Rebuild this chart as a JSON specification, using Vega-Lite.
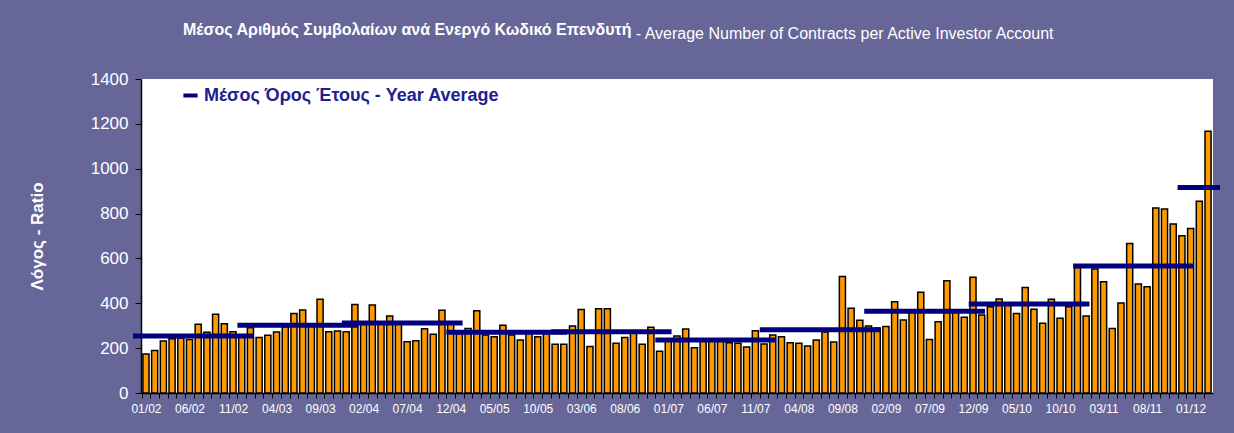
{
  "$schema": "https://vega.github.io/schema/vega-lite/v6.json",
  "width": 1072,
  "height": 314,
  "autosize": {"type": "none"},
  "padding": {"left": 141, "top": 79, "right": 21, "bottom": 40},
  "background": "#666699",
  "title": {
    "text": "Μέσος Αριθμός Συμβολαίων ανά Ενεργό Κωδικό Επενδυτή",
    "color": "white",
    "font": "Liberation Sans, Arial, sans-serif",
    "fontSize": 16,
    "fontWeight": "bold",
    "anchor": "start",
    "frame": "group",
    "dx": 42,
    "offset": -13
  },
  "config": {
    "view": {"fill": "white", "stroke": null},
    "axis": {"domainColor": "#000000", "tickColor": "#000000", "grid": false}
  },
  "datasets": {
    "monthly": [
      {"m": "2002-01", "v": 174}, {"m": "2002-02", "v": 189}, {"m": "2002-03", "v": 232}, {"m": "2002-04", "v": 242}, {"m": "2002-05", "v": 245}, {"m": "2002-06", "v": 239}, {"m": "2002-07", "v": 306}, {"m": "2002-08", "v": 271}, {"m": "2002-09", "v": 351}, {"m": "2002-10", "v": 309}, {"m": "2002-11", "v": 273}, {"m": "2002-12", "v": 252},
      {"m": "2003-01", "v": 291}, {"m": "2003-02", "v": 247}, {"m": "2003-03", "v": 257}, {"m": "2003-04", "v": 272}, {"m": "2003-05", "v": 295}, {"m": "2003-06", "v": 354}, {"m": "2003-07", "v": 370}, {"m": "2003-08", "v": 300}, {"m": "2003-09", "v": 418}, {"m": "2003-10", "v": 273}, {"m": "2003-11", "v": 276}, {"m": "2003-12", "v": 273},
      {"m": "2004-01", "v": 395}, {"m": "2004-02", "v": 305}, {"m": "2004-03", "v": 392}, {"m": "2004-04", "v": 310}, {"m": "2004-05", "v": 343}, {"m": "2004-06", "v": 310}, {"m": "2004-07", "v": 229}, {"m": "2004-08", "v": 233}, {"m": "2004-09", "v": 287}, {"m": "2004-10", "v": 262}, {"m": "2004-11", "v": 369}, {"m": "2004-12", "v": 310},
      {"m": "2005-01", "v": 265}, {"m": "2005-02", "v": 288}, {"m": "2005-03", "v": 367}, {"m": "2005-04", "v": 259}, {"m": "2005-05", "v": 251}, {"m": "2005-06", "v": 302}, {"m": "2005-07", "v": 259}, {"m": "2005-08", "v": 236}, {"m": "2005-09", "v": 275}, {"m": "2005-10", "v": 251}, {"m": "2005-11", "v": 265}, {"m": "2005-12", "v": 217},
      {"m": "2006-01", "v": 217}, {"m": "2006-02", "v": 299}, {"m": "2006-03", "v": 372}, {"m": "2006-04", "v": 207}, {"m": "2006-05", "v": 376}, {"m": "2006-06", "v": 376}, {"m": "2006-07", "v": 222}, {"m": "2006-08", "v": 248}, {"m": "2006-09", "v": 266}, {"m": "2006-10", "v": 217}, {"m": "2006-11", "v": 293}, {"m": "2006-12", "v": 186},
      {"m": "2007-01", "v": 240}, {"m": "2007-02", "v": 254}, {"m": "2007-03", "v": 285}, {"m": "2007-04", "v": 202}, {"m": "2007-05", "v": 235}, {"m": "2007-06", "v": 235}, {"m": "2007-07", "v": 235}, {"m": "2007-08", "v": 224}, {"m": "2007-09", "v": 222}, {"m": "2007-10", "v": 205}, {"m": "2007-11", "v": 278}, {"m": "2007-12", "v": 218},
      {"m": "2008-01", "v": 259}, {"m": "2008-02", "v": 251}, {"m": "2008-03", "v": 224}, {"m": "2008-04", "v": 222}, {"m": "2008-05", "v": 210}, {"m": "2008-06", "v": 236}, {"m": "2008-07", "v": 272}, {"m": "2008-08", "v": 227}, {"m": "2008-09", "v": 519}, {"m": "2008-10", "v": 378}, {"m": "2008-11", "v": 324}, {"m": "2008-12", "v": 299},
      {"m": "2009-01", "v": 290}, {"m": "2009-02", "v": 296}, {"m": "2009-03", "v": 407}, {"m": "2009-04", "v": 325}, {"m": "2009-05", "v": 360}, {"m": "2009-06", "v": 449}, {"m": "2009-07", "v": 239}, {"m": "2009-08", "v": 318}, {"m": "2009-09", "v": 501}, {"m": "2009-10", "v": 360}, {"m": "2009-11", "v": 338}, {"m": "2009-12", "v": 516},
      {"m": "2010-01", "v": 348}, {"m": "2010-02", "v": 385}, {"m": "2010-03", "v": 419}, {"m": "2010-04", "v": 395}, {"m": "2010-05", "v": 355}, {"m": "2010-06", "v": 470}, {"m": "2010-07", "v": 373}, {"m": "2010-08", "v": 311}, {"m": "2010-09", "v": 418}, {"m": "2010-10", "v": 333}, {"m": "2010-11", "v": 385}, {"m": "2010-12", "v": 560},
      {"m": "2011-01", "v": 343}, {"m": "2011-02", "v": 553}, {"m": "2011-03", "v": 496}, {"m": "2011-04", "v": 288}, {"m": "2011-05", "v": 401}, {"m": "2011-06", "v": 667}, {"m": "2011-07", "v": 486}, {"m": "2011-08", "v": 474}, {"m": "2011-09", "v": 825}, {"m": "2011-10", "v": 820}, {"m": "2011-11", "v": 754}, {"m": "2011-12", "v": 701},
      {"m": "2012-01", "v": 733}, {"m": "2012-02", "v": 855}, {"m": "2012-03", "v": 1167}
    ],
    "yearly": [
      {"start": "2002-01", "end": "2002-12", "avg": 254},
      {"start": "2003-01", "end": "2003-12", "avg": 302},
      {"start": "2004-01", "end": "2004-12", "avg": 312},
      {"start": "2005-01", "end": "2005-12", "avg": 271},
      {"start": "2006-01", "end": "2006-12", "avg": 273},
      {"start": "2007-01", "end": "2007-12", "avg": 236},
      {"start": "2008-01", "end": "2008-12", "avg": 282},
      {"start": "2009-01", "end": "2009-12", "avg": 365},
      {"start": "2010-01", "end": "2010-12", "avg": 397},
      {"start": "2011-01", "end": "2011-12", "avg": 566},
      {"start": "2012-01", "end": "2012-03", "avg": 916}
    ]
  },
  "layer": [
    {
      "data": {"name": "monthly"},
      "mark": {"type": "bar", "fill": "#FF9900", "stroke": "#000000", "strokeWidth": 1.5},
      "encoding": {
        "x": {
          "field": "m",
          "type": "ordinal",
          "scale": {"paddingInner": 0.3, "paddingOuter": 0.22},
          "axis": {
            "title": "- Average Number of Contracts per Active Investor Account",
            "titleColor": "white",
            "titleFont": "Liberation Sans, Arial, sans-serif",
            "titleFontSize": 16,
            "titleFontWeight": "normal",
            "titleAlign": "right",
            "titleBaseline": "alphabetic",
            "titleX": 912,
            "titleY": -355,
            "labelExpr": "(((toNumber(slice(datum.value,0,4))-2002)*12 + toNumber(slice(datum.value,5,7)) - 1) % 5 == 0) ? slice(datum.value,5,7) + '/' + slice(datum.value,2,4) : ''",
            "labelColor": "white",
            "labelFont": "Liberation Sans, Arial, sans-serif",
            "labelFontSize": 12,
            "labelAngle": 0,
            "labelOverlap": false,
            "labelPadding": 5,
            "tickSize": 5,
            "tickOffset": -4.35,
            "labelOffset": 4.35,
            "domainWidth": 1.5
          }
        },
        "y": {
          "field": "v",
          "type": "quantitative",
          "scale": {"domain": [0, 1400]},
          "axis": {
            "title": "Λόγος - Ratio",
            "values": [0, 200, 400, 600, 800, 1000, 1200, 1400],
            "format": "d",
            "labelColor": "white",
            "labelFont": "Liberation Sans, Arial, sans-serif",
            "labelFontSize": 17,
            "labelPadding": 7,
            "tickSize": 6,
            "domainWidth": 1.5,
            "titleColor": "white",
            "titleFont": "Liberation Sans, Arial, sans-serif",
            "titleFontSize": 17,
            "titleFontWeight": "bold",
            "titleX": -95,
            "titleY": 157
          }
        }
      }
    },
    {
      "data": {"name": "yearly"},
      "mark": {"type": "rule", "strokeWidth": 5, "xOffset": -13, "x2Offset": 12},
      "encoding": {
        "x": {"field": "start", "type": "ordinal"},
        "x2": {"field": "end"},
        "y": {"field": "avg", "type": "quantitative"},
        "color": {
          "datum": "Μέσος Όρος Έτους - Year Average",
          "type": "nominal",
          "scale": {"range": ["#000080"]},
          "legend": {
            "orient": "none",
            "legendX": 40,
            "legendY": 7,
            "title": null,
            "padding": 0,
            "symbolType": "stroke",
            "symbolStrokeWidth": 4,
            "symbolSize": 200,
            "labelFont": "Liberation Sans, Arial, sans-serif",
            "labelFontSize": 18,
            "labelFontWeight": "bold",
            "labelColor": "#202090",
            "labelLimit": 600
          }
        }
      }
    }
  ]
}
